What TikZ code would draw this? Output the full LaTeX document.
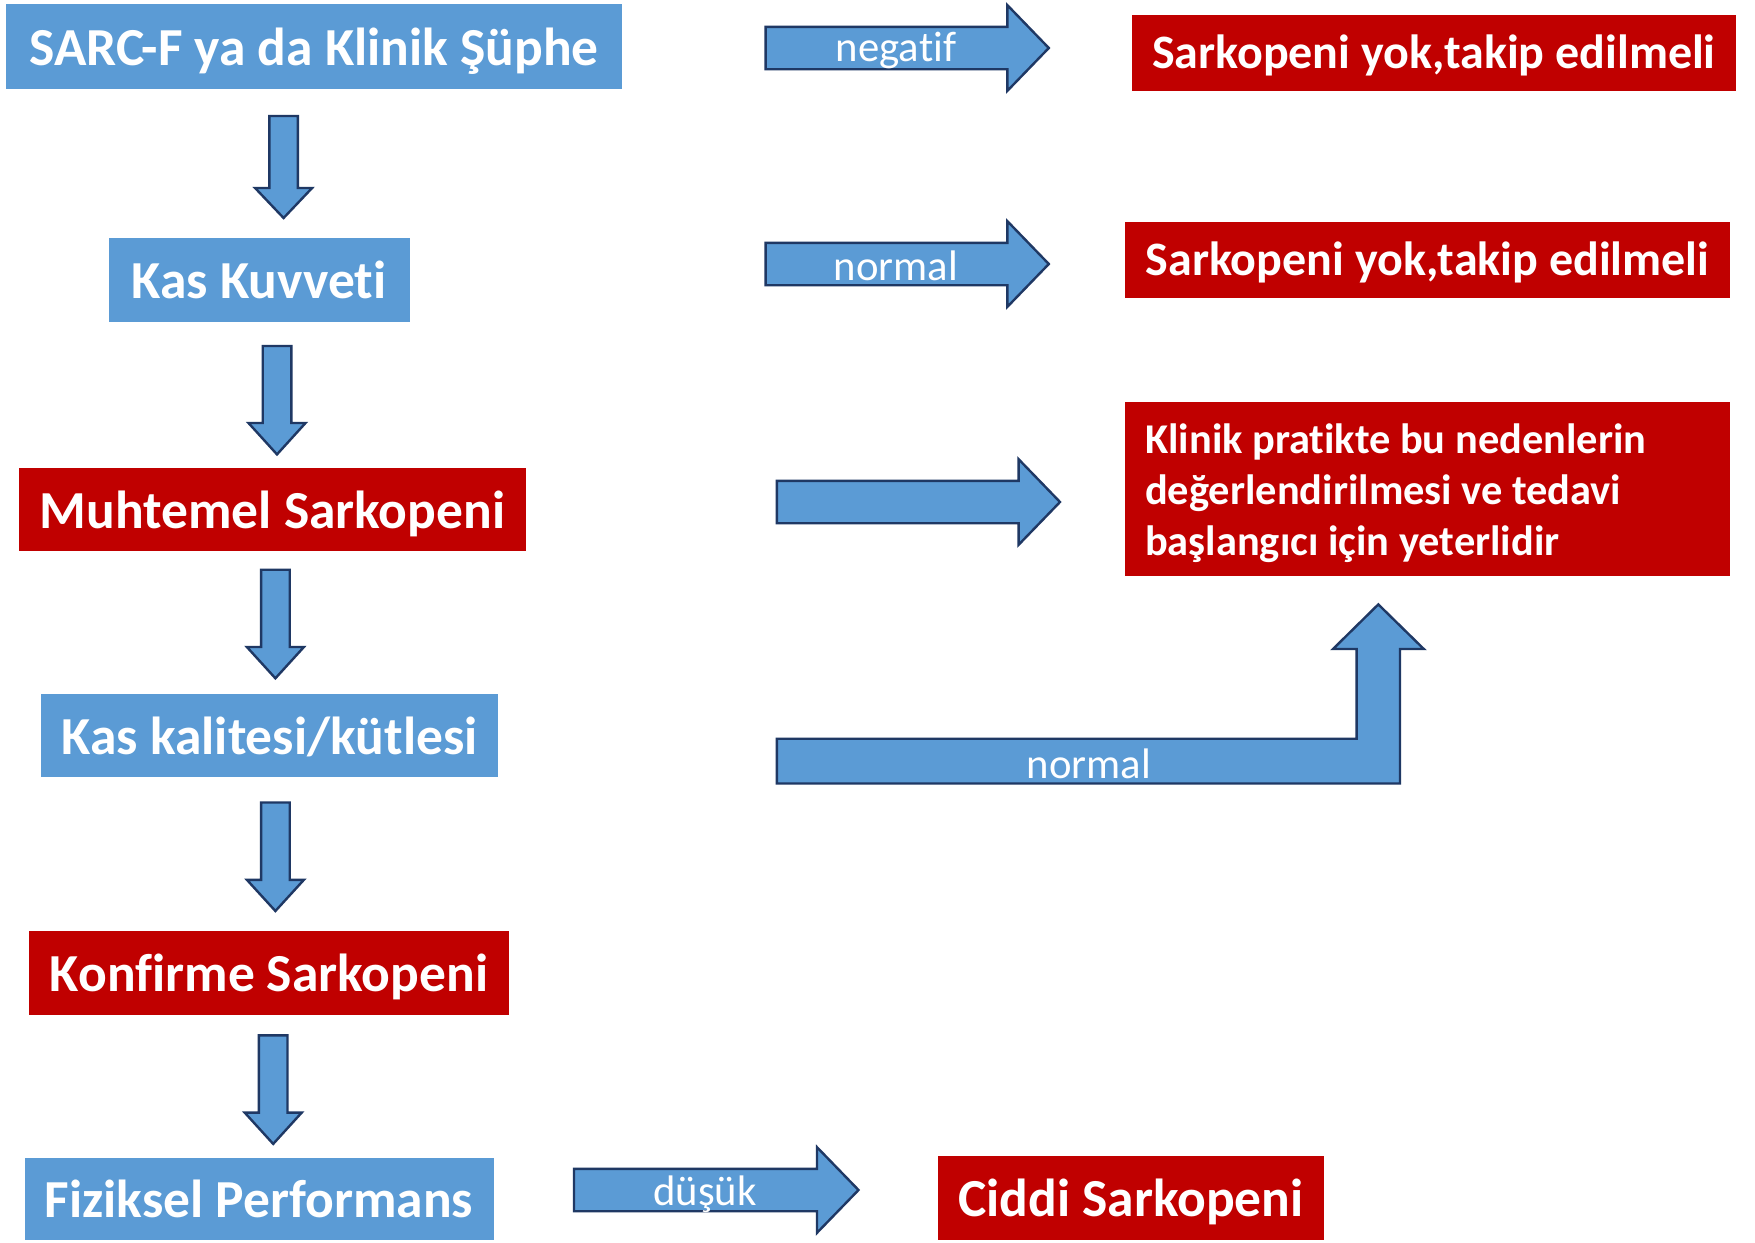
\documentclass[tikz,border=0pt]{standalone}
\usepackage{fontspec}
\setmainfont{Carlito}[Ligatures=NoCommon]
\definecolor{boxblue}{HTML}{5B9BD5}
\definecolor{boxred}{HTML}{C00000}
\definecolor{arrline}{HTML}{1F3864}
\begin{document}
\begin{tikzpicture}[x=1pt,y=-1pt,
  bluebox/.style={fill=boxblue,draw=none,text=white,font=\bfseries\fontsize{53.5}{60}\selectfont,inner sep=0pt,text height=45pt,text depth=8pt},
  redbox/.style={fill=boxred,draw=none,text=white,font=\bfseries\fontsize{53.5}{60}\selectfont,inner sep=0pt,text height=45pt,text depth=8pt},
  redsmall/.style={redbox,font=\bfseries\fontsize{48}{56}\selectfont,text height=38pt,text depth=7pt},
  blockarrow/.style={fill=boxblue,draw=arrline,line width=2.4pt,line join=miter},
  arrlabel/.style={text=white,font=\fontsize{42.7}{48}\selectfont,inner sep=0pt}]
\useasboundingbox (0,0) rectangle (1755,1242);
\fill[white] (0,0) rectangle (1755,1242);

% left column boxes
\node[bluebox,minimum width=616pt,minimum height=85pt] (b1) at (314,46.5) {SARC-F ya da Klinik Şüphe};
\node[bluebox,minimum width=301pt,minimum height=84pt] (b2) at (259,280.4) {Kas Kuvveti};
\node[redbox,minimum width=507pt,minimum height=83pt] (b3) at (272.5,509.5) {Muhtemel Sarkopeni};
\node[bluebox,minimum width=457pt,minimum height=83pt] (b4) at (269.7,735.5) {Kas kalitesi/kütlesi};
\node[redbox,minimum width=480pt,minimum height=84pt] (b5) at (269,973) {Konfirme Sarkopeni};
\node[bluebox,minimum width=469pt,minimum height=81.5pt] (b6) at (259,1199) {Fiziksel Performans};

% right boxes
\node[redsmall,minimum width=604pt,minimum height=76pt] (r1) at (1433.8,52.6) {Sarkopeni yok,takip edilmeli};
\node[redsmall,minimum width=605pt,minimum height=76pt] (r2) at (1427.5,259.6) {Sarkopeni yok,takip edilmeli};
\node[fill=boxred,minimum width=605pt,minimum height=174.6pt,inner sep=0pt] (r3) at (1427.5,489) {};
\node[text=white,font=\bfseries\fontsize{42.4}{51}\selectfont,align=left,anchor=west,inner sep=0pt] (r3t) at (1145,493.5)
  {Klinik pratikte bu nedenlerin\\değerlendirilmesi ve tedavi\\başlangıcı için yeterlidir};
\node[redbox,minimum width=386pt,minimum height=84pt] (r4) at (1131,1198) {Ciddi Sarkopeni};

% down arrows
\foreach \cx/\top/\base/\tip in {283.6/116/188/218, 277/346/423/454.4, 275.4/569.7/647/678.3, 275.4/802.5/879.8/911, 273.2/1035.4/1112.6/1143.9}{
  \draw[blockarrow] (\cx-14.3,\top) -- (\cx+14.3,\top) -- (\cx+14.3,\base) -- (\cx+28.5,\base)
     -- (\cx,\tip) -- (\cx-28.5,\base) -- (\cx-14.3,\base) -- cycle;
}

% right arrows
\foreach \xl/\xb/\xt/\cy in {765.6/1007.4/1048.8/48, 765.6/1007.4/1048.8/264, 776.8/1018.6/1060/502, 574/817/858.5/1190}{
  \draw[blockarrow] (\xl,\cy-21.2) -- (\xb,\cy-21.2) -- (\xb,\cy-42.8) -- (\xt,\cy)
     -- (\xb,\cy+42.8) -- (\xb,\cy+21.2) -- (\xl,\cy+21.2) -- cycle;
}
\node[arrlabel] (l1) at (896,50) {negatif};
\node[arrlabel] (l2) at (896,266) {normal};
\node[arrlabel] (l4) at (705,1194) {düşük};

% L-shaped arrow
\draw[blockarrow] (776.8,738.7) -- (1356.6,738.7) -- (1356.6,649) -- (1333,649) -- (1378.3,604.4)
   -- (1423.8,649) -- (1400,649) -- (1400,783.5) -- (776.8,783.5) -- cycle;
\node[arrlabel] (l3) at (1089,764) {normal};
\end{tikzpicture}
\end{document}
